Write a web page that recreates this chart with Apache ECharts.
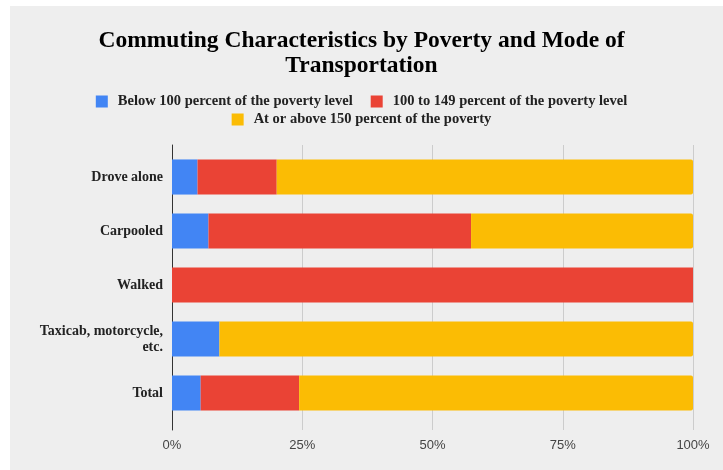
<!DOCTYPE html>
<html>
<head>
<meta charset="utf-8">
<script src="https://cdn.jsdelivr.net/npm/echarts@6/dist/echarts.min.js"></script>
<style>
html,body{margin:0;padding:0;background:#fff;}
#bg{position:absolute;left:10px;top:6px;right:0;bottom:0;background:#eeeeee;}
#chart{position:absolute;left:0;top:0;width:723px;height:470px;}
</style>
</head>
<body>
<div id="bg"></div>
<div id="chart"></div>
<script>
var categories = ['Drove alone', 'Carpooled', 'Walked', 'Taxicab, motorcycle,\netc.', 'Total'];
var seriesNames = ['Below 100 percent of the poverty level', '100 to 149 percent of the poverty level', 'At or above 150 percent of the poverty'];
var below100 = [4.9, 7.0, 0, 9.1, 5.5];
var from100to149 = [15.2, 50.4, 100, 0, 18.9];
var above150 = [79.9, 42.6, 0, 90.9, 75.6];
var tickValues = [0, 25, 50, 75, 100];

var chart = echarts.init(document.getElementById('chart'));
var serif = "'Liberation Serif', 'Times New Roman', serif";
var sans = "'Liberation Sans', Arial, sans-serif";
var colors = ['#4285F4', '#EA4335', '#FBBC04'];
var legendText = {fontFamily: serif, fontWeight: 'bold', fontSize: 14.5, color: '#222', padding: [0, 0, 0, 5]};

chart.setOption({
  backgroundColor: 'transparent',
  color: colors,
  animation: false,
  title: {
    text: 'Commuting Characteristics by Poverty and Mode of\nTransportation',
    left: 'center',
    top: 23,
    textStyle: {fontFamily: serif, fontWeight: 'bold', fontSize: 23.5, lineHeight: 25, color: '#000'}
  },
  legend: [
    {data: [seriesNames[0], seriesNames[1]], top: 89, left: 'center', itemWidth: 12, itemHeight: 12, itemGap: 18, icon: 'rect', textStyle: legendText},
    {data: [seriesNames[2]], top: 107, left: 'center', itemWidth: 12, itemHeight: 12, icon: 'rect', textStyle: legendText}
  ],
  grid: [
    {left: 172, right: 30, top: 150, bottom: 50},
    {left: 172, right: 30, top: 145, bottom: 40}
  ],
  xAxis: [
    {
      gridIndex: 0, type: 'value', min: 0, max: 100, interval: 25,
      axisLine: {show: false}, axisTick: {show: false}, splitLine: {show: false}, axisLabel: {show: false}
    },
    {
      gridIndex: 1, type: 'value', min: 0, max: 100, interval: 25,
      axisLine: {show: false},
      axisTick: {show: false},
      splitLine: {lineStyle: {color: '#cccccc', width: 1}},
      axisLabel: {
        formatter: function (v) { return tickValues.indexOf(v) >= 0 ? v + '%' : ''; },
        fontFamily: sans, fontSize: 13, color: '#444', margin: 9
      }
    }
  ],
  yAxis: [
    {
      gridIndex: 0, type: 'category', inverse: true, data: categories,
      axisLine: {show: false},
      axisTick: {show: false},
      axisLabel: {fontFamily: serif, fontWeight: 'bold', fontSize: 14, color: '#222', margin: 9, lineHeight: 16}
    },
    {
      gridIndex: 1, type: 'value', min: 0, max: 1,
      axisLine: {show: true, lineStyle: {color: '#333', width: 1}},
      axisTick: {show: false}, axisLabel: {show: false}, splitLine: {show: false}
    }
  ],
  series: [
    {name: seriesNames[0], type: 'bar', stack: 'a', xAxisIndex: 0, yAxisIndex: 0, data: below100, barWidth: '65%'},
    {name: seriesNames[1], type: 'bar', stack: 'a', xAxisIndex: 0, yAxisIndex: 0, data: from100to149, barWidth: '65%'},
    {name: seriesNames[2], type: 'bar', stack: 'a', xAxisIndex: 0, yAxisIndex: 0, data: above150, barWidth: '65%', itemStyle: {borderRadius: [0, 2, 2, 0]}}
  ]
});
</script>
</body>
</html>
